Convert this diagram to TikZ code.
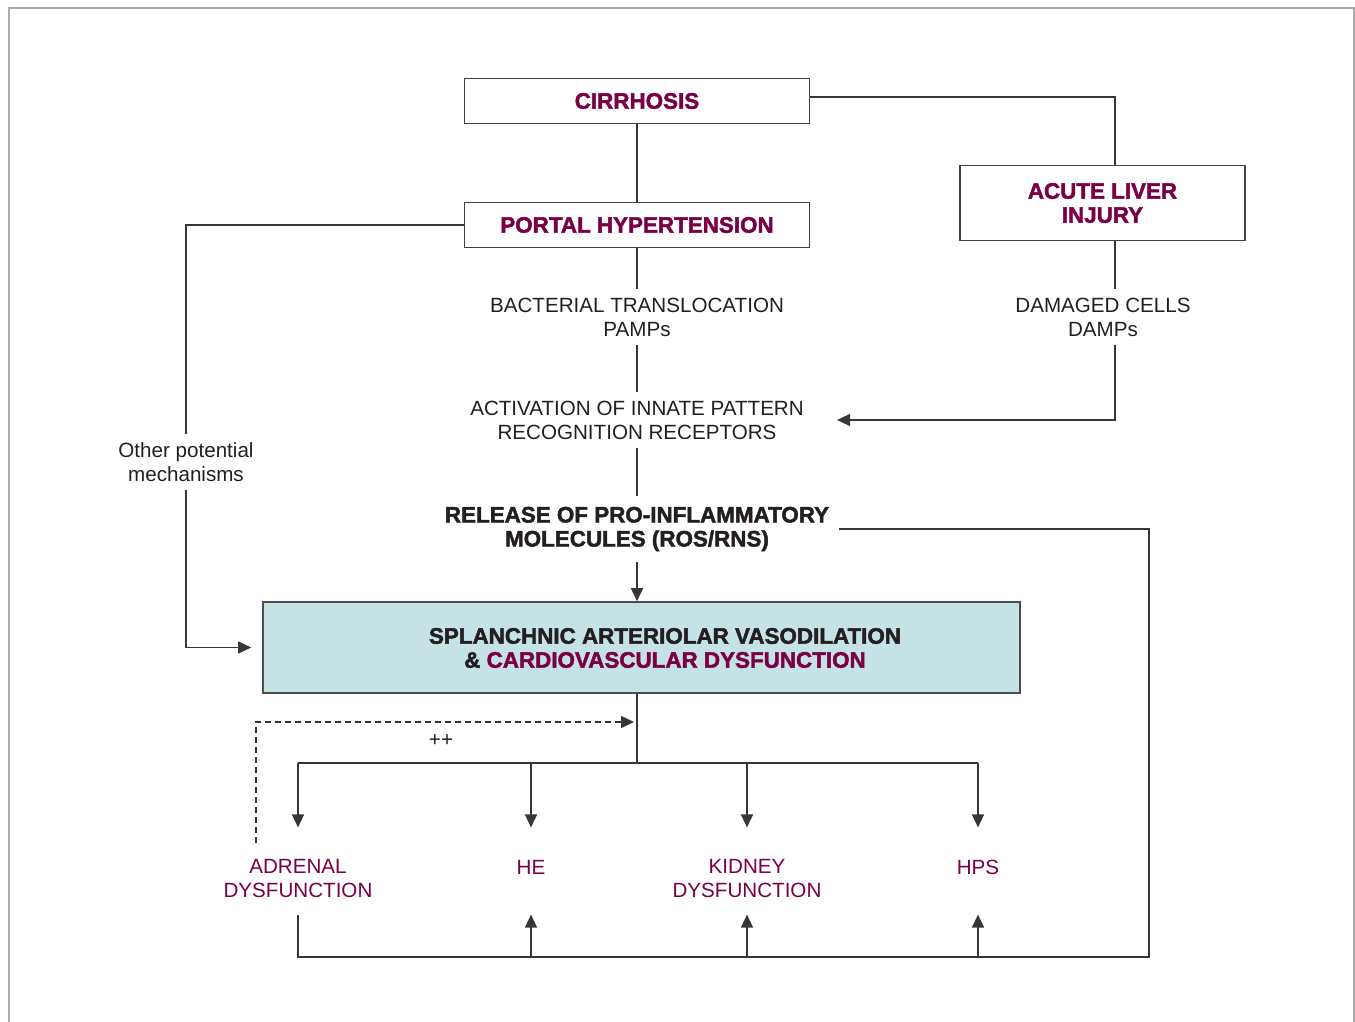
\documentclass[tikz,border=0pt]{standalone}
\usepackage{fontspec}
\setmainfont{Liberation Sans}
\newfontfamily\heavyfont[FakeBold=2]{Liberation Sans Bold}
\usetikzlibrary{positioning,calc,arrows.meta}
\definecolor{wine}{RGB}{122,0,70}
\definecolor{paleteal}{RGB}{197,227,229}
\definecolor{framegray}{RGB}{172,172,172}
\definecolor{ink}{RGB}{35,31,32}

\tikzset{
  line/.style={draw=ink!90, line width=0.8pt},
  arr/.style={line, -{Triangle[length=6.5pt,width=6pt]}},
  headbox/.style={draw=ink!85, line width=0.8pt, fill=white, align=center, text=wine,
    font=\heavyfont\fontsize{11.2}{12}\selectfont, inner sep=0pt},
  plain/.style={align=center, text=ink, font=\fontsize{10.3}{12}\selectfont, inner sep=4pt},
  heavy/.style={align=center, text=ink, font=\heavyfont\fontsize{11.2}{12}\selectfont, inner sep=5pt},
  organ/.style={plain, text=wine, inner xsep=2pt, inner ysep=8pt}
}

\begin{document}
\begin{tikzpicture}[x=0.5pt, y=-0.5pt]
    \useasboundingbox (0,0) rectangle (1355,1022);
    \draw[framegray, line width=1pt] (9,1022) -- (9,8) -- (1354,8) -- (1354,1022);

    % boxes
    \node[headbox, minimum width=172.5pt, minimum height=22.5pt] (cirr) at (637,101) {CIRRHOSIS};
    \node[headbox, minimum width=172.5pt, minimum height=22.5pt] (pht) at (637,225) {PORTAL HYPERTENSION};
    \node[headbox, minimum width=142.5pt, minimum height=37.5pt] (ali) at (1102.5,203) {ACUTE LIVER\\INJURY};
    \node[draw=ink!80, line width=0.8pt, fill=paleteal, minimum width=378.5pt, minimum height=45.5pt] (vaso) at (641.5,647.5) {};
    \node[heavy] (vasolbl) at (665,648) {SPLANCHNIC ARTERIOLAR VASODILATION\\\& \textcolor{wine}{CARDIOVASCULAR DYSFUNCTION}};

    % middle texts
    \node[plain] (bact) at (637,317) {BACTERIAL TRANSLOCATION\\PAMPs};
    \node[plain] (damp) at (1103,317) {DAMAGED CELLS\\DAMPs};
    \node[plain] (act) at (637,420) {ACTIVATION OF INNATE PATTERN\\RECOGNITION RECEPTORS};
    \node[heavy] (rel) at (637,529) {RELEASE OF PRO-INFLAMMATORY\\MOLECULES (ROS/RNS)};
    \node[plain] (other) at (186,462) {Other potential\\mechanisms};
    \node[plain] (plus) at (441,741) {++};

    % outcomes
    \node[organ] (adr) at (298,879) {ADRENAL\\DYSFUNCTION};
    \node[organ] (he) at (531,867) {HE};
    \node[organ] (kid) at (747,879) {KIDNEY\\DYSFUNCTION};
    \node[organ] (hps) at (978,867) {HPS};

    \coordinate (alicol) at (1115,97);
    \coordinate (split) at (637,763);
    \coordinate (loopc) at (1149,957);
    \coordinate (fbk) at (256,722);

    % upper connectors
    \draw[line] (cirr) -- (pht);
    \draw[line] (cirr.east |- alicol) -| (alicol |- ali.north);
    \draw[line] (alicol |- ali.south) -- (alicol |- damp.north);
    \draw[arr] (alicol |- damp.south) |- ([xshift=12.5pt]act.east);
    \draw[line] (pht) -- (bact);
    \draw[line] (bact) -- (act);
    \draw[line] (act) -- (rel);
    \draw[arr] (rel) -- (rel |- vaso.north);
    \draw[line] (pht.west) -| (other);
    \draw[arr, shorten >=5.5pt] (other) |- (vaso.west);

    % lower connectors
    \draw[line] (vaso.south -| split) -- (split);
    \draw[line] (adr |- split) -- (hps |- split);
    \foreach \o in {adr,he,kid,hps}
        \draw[arr, shorten >=8pt] (\o |- split) -- (\o |- adr.north);
    \draw[line] (rel.east) -| (loopc) -| (adr.south);
    \foreach \o in {he,kid,hps}
        \draw[arr] (\o |- loopc) -- (\o |- adr.south);
    \draw[arr, dash pattern=on 3pt off 2pt, shorten >=1.5pt] (adr.north -| fbk) |- (split |- fbk);
\end{tikzpicture}
\end{document}
